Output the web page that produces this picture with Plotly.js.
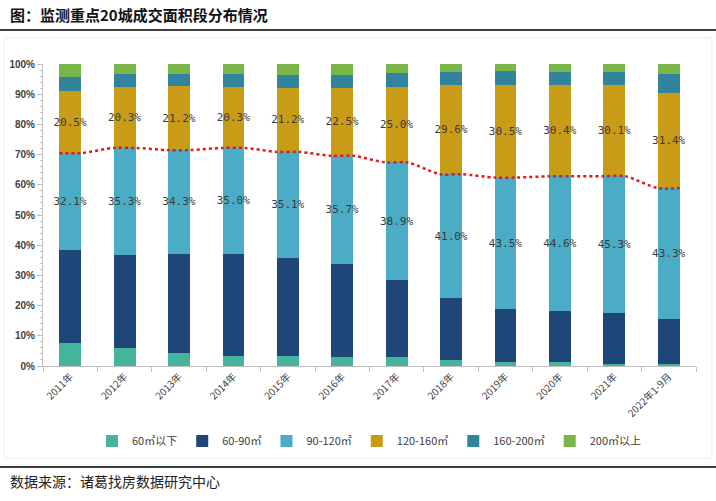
<!DOCTYPE html>
<html>
<head>
<meta charset="utf-8">
<script src="https://cdn.plot.ly/plotly-3.0.1.min.js"></script>
<style>
  html, body { margin: 0; padding: 0; background: #fff; }
  #plot { width: 716px; height: 501px; }
</style>
</head>
<body>
<div id="plot"></div>
<script>
const categories = ['2011年', '2012年', '2013年', '2014年', '2015年', '2016年',
    '2017年', '2018年', '2019年', '2020年', '2021年', '2022年1-9月'];
const seriesNames = ['60㎡以下', '60-90㎡', '90-120㎡', '120-160㎡', '160-200㎡', '200㎡以上'];
const seriesColors = ['#44b59c', '#1f4678', '#4bacc6', '#c99c18', '#31849b', '#7ab648'];

// shares in %
const shareBelow60 = [7.7, 6.1, 4.4, 3.4, 3.4, 3.1, 3.1, 2.0, 1.3, 1.2, 0.7, 0.7];
const share60to90 = [30.7, 30.8, 32.8, 33.8, 32.4, 30.8, 25.4, 20.5, 17.6, 17.0, 16.8, 14.9];
const share90to120 = [32.1, 35.3, 34.3, 35.0, 35.1, 35.7, 38.9, 41.0, 43.5, 44.6, 45.3, 43.3];
const share120to160 = [20.5, 20.3, 21.2, 20.3, 21.2, 22.5, 25.0, 29.6, 30.5, 30.4, 30.1, 31.4];
const share160to200 = [4.8, 4.2, 4.0, 4.2, 4.3, 4.3, 4.5, 4.3, 4.8, 4.2, 4.5, 6.4];
const shareAbove200 = [4.2, 3.3, 3.3, 3.3, 3.6, 3.6, 3.1, 2.6, 2.3, 2.6, 2.6, 3.3];

const allShares = [shareBelow60, share60to90, share90to120, share120to160, share160to200, shareAbove200];
const labelled = [false, false, true, true, false, false];

// plot area in px (used only to place titles / rules outside the plot)
const PL = 43, PR = 696, PT = 64, PB = 366;
const px2x = (px) => (px - PL) / (PR - PL);
const px2y = (py) => (PB - py) / (PB - PT);

const barWidth = 0.4;

const traces = allShares.map((vals, k) => ({
    type: 'bar',
    x: categories,
    y: vals,
    name: seriesNames[k],
    marker: { color: seriesColors[k], line: { width: 0 } },
    text: labelled[k] ? vals.map(v => v.toFixed(1) + '%') : undefined,
    textposition: labelled[k] ? 'inside' : 'none',
    insidetextanchor: 'middle',
    constraintext: 'none',
    textangle: 0,
    insidetextfont: { family: 'DejaVu Sans Mono, monospace', size: 11, color: '#3a3a3a' },
    hoverinfo: 'x+y+name'
}));

// red dotted line along the top of the 90-120 segment (cumulative share up to 120㎡)
const lineX = [];
const lineY = [];
categories.forEach((c, i) => {
    const cum = shareBelow60[i] + share60to90[i] + share90to120[i];
    lineX.push(i - barWidth / 2, i + barWidth / 2);
    lineY.push(cum, cum);
});
traces.push({
    type: 'scatter',
    mode: 'lines',
    x: lineX,
    y: lineY,
    xaxis: 'x2',
    line: { color: '#e31a1c', width: 2.5, dash: 'dot', shape: 'spline', smoothing: 0.8 },
    showlegend: false,
    hoverinfo: 'skip'
});

const layout = {
    width: 716,
    height: 501,
    paper_bgcolor: '#fff',
    plot_bgcolor: '#fff',
    margin: { l: PL, r: 716 - PR, t: PT, b: 501 - PB },
    barmode: 'stack',
    bargap: 1 - barWidth,
    font: { family: 'Noto Sans CJK SC, sans-serif', color: '#404040' },
    xaxis: {
        type: 'category',
        showline: true,
        linecolor: '#bfbfbf',
        ticks: 'outside',
        tickson: 'boundaries',
        ticklen: 5,
        tickcolor: '#bfbfbf',
        tickangle: -45,
        tickfont: { family: 'Noto Sans CJK SC, sans-serif', size: 10, color: '#404040' },
        showgrid: false,
        zeroline: false
    },
    xaxis2: {
        overlaying: 'x',
        range: [-0.5, categories.length - 0.5],
        visible: false
    },
    yaxis: {
        range: [0, 100],
        dtick: 10,
        ticksuffix: '%',
        showline: true,
        linecolor: '#bfbfbf',
        ticks: 'outside',
        ticklen: 5,
        tickcolor: '#bfbfbf',
        minor: { dtick: 2, ticks: 'outside', ticklen: 2, tickcolor: '#bfbfbf' },
        tickfont: { family: 'Liberation Sans, Arial, sans-serif', size: 10, color: '#404040', weight: 'bold' },
        showgrid: false,
        zeroline: false
    },
    legend: {
        orientation: 'h',
        x: 0.5,
        xanchor: 'center',
        y: px2y(441),
        yanchor: 'middle',
        font: { family: 'Noto Sans CJK SC, sans-serif', size: 11, color: '#404040' },
        itemwidth: 30,
        traceorder: 'normal',
        bgcolor: 'rgba(0,0,0,0)'
    },
    annotations: [
        {
            text: '<b>图：监测重点20城成交面积段分布情况</b>',
            xref: 'paper', yref: 'paper',
            x: px2x(8), y: px2y(15),
            xanchor: 'left', yanchor: 'middle',
            showarrow: false,
            font: { family: 'Noto Sans CJK SC, sans-serif', size: 15, color: '#111' }
        },
        {
            text: '数据来源：诸葛找房数据研究中心',
            xref: 'paper', yref: 'paper',
            x: px2x(8), y: px2y(481),
            xanchor: 'left', yanchor: 'middle',
            showarrow: false,
            font: { family: 'Noto Sans CJK SC, sans-serif', size: 14, color: '#222' }
        }
    ],
    shapes: [
        {
            type: 'line', xref: 'paper', yref: 'paper',
            x0: px2x(0), x1: px2x(716), y0: px2y(30), y1: px2y(30),
            line: { color: '#000', width: 1.5 }
        },
        {
            type: 'rect', xref: 'paper', yref: 'paper',
            x0: px2x(4), x1: px2x(712), y0: px2y(38), y1: px2y(458),
            line: { color: '#ececec', width: 1 }, layer: 'below'
        },
        {
            type: 'line', xref: 'paper', yref: 'paper',
            x0: px2x(0), x1: px2x(716), y0: px2y(467), y1: px2y(467),
            line: { color: '#000', width: 1.5 }
        }
    ],
    showlegend: true
};

Plotly.newPlot('plot', traces, layout, { displayModeBar: false, staticPlot: true });
</script>
</body>
</html>
